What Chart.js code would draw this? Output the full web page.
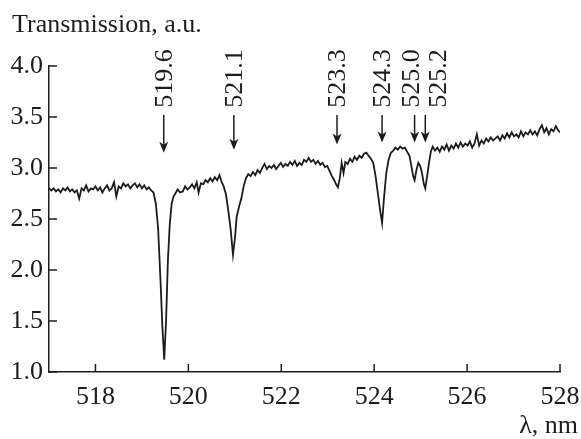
<!DOCTYPE html>
<html>
<head>
<meta charset="utf-8">
<script src="https://cdn.jsdelivr.net/npm/chart.js@4"></script>
<style>
  html, body { margin: 0; padding: 0; background: #fff; }
  #wrap { width: 581px; height: 439px; }
</style>
</head>
<body>
<div id="wrap"><canvas id="spectrum" width="581" height="439"></canvas></div>
<script>
// wavelength, nm
const wavelength = [
  517.00, 517.05, 517.10, 517.15, 517.20, 517.25, 517.30, 517.35, 517.40, 517.45,
  517.50, 517.55, 517.60, 517.65, 517.70, 517.75, 517.80, 517.85, 517.90, 517.95,
  518.00, 518.05, 518.10, 518.15, 518.20, 518.25, 518.30, 518.35, 518.40, 518.45,
  518.50, 518.55, 518.60, 518.65, 518.70, 518.75, 518.80, 518.85, 518.90, 518.95,
  519.00, 519.05, 519.10, 519.15, 519.20, 519.25, 519.30, 519.35, 519.40, 519.44,
  519.48, 519.52, 519.56, 519.60, 519.64, 519.68, 519.72, 519.77, 519.82, 519.88,
  519.93, 519.98, 520.03, 520.08, 520.13, 520.18, 520.22, 520.27, 520.32, 520.37,
  520.42, 520.47, 520.52, 520.57, 520.62, 520.67, 520.71, 520.76, 520.81, 520.86,
  520.91, 520.96, 521.00, 521.04, 521.09, 521.14, 521.19, 521.24, 521.29, 521.34,
  521.39, 521.44, 521.49, 521.54, 521.59, 521.64, 521.69, 521.74, 521.79, 521.84,
  521.89, 521.94, 521.99, 522.04, 522.09, 522.14, 522.19, 522.24, 522.29, 522.34,
  522.39, 522.44, 522.49, 522.54, 522.59, 522.64, 522.69, 522.74, 522.79, 522.84,
  522.89, 522.94, 522.99, 523.04, 523.09, 523.14, 523.18, 523.22, 523.26, 523.30,
  523.34, 523.38, 523.43, 523.48, 523.53, 523.58, 523.63, 523.68, 523.73, 523.78,
  523.83, 523.88, 523.93, 523.98, 524.03, 524.08, 524.13, 524.17, 524.21, 524.26,
  524.31, 524.36, 524.41, 524.46, 524.51, 524.56, 524.61, 524.66, 524.71, 524.76,
  524.80, 524.84, 524.87, 524.91, 524.95, 524.99, 525.03, 525.07, 525.10, 525.14,
  525.18, 525.22, 525.26, 525.31, 525.36, 525.41, 525.46, 525.51, 525.56, 525.61,
  525.66, 525.71, 525.76, 525.81, 525.86, 525.91, 525.96, 526.01, 526.06, 526.11,
  526.16, 526.21, 526.26, 526.31, 526.36, 526.41, 526.46, 526.51, 526.56, 526.61,
  526.66, 526.71, 526.76, 526.81, 526.86, 526.91, 526.96, 527.01, 527.06, 527.11,
  527.16, 527.21, 527.26, 527.31, 527.36, 527.41, 527.46, 527.51, 527.56, 527.61,
  527.66, 527.71, 527.76, 527.81, 527.86, 527.91, 527.96, 528.00
];

// transmission, a.u.
const transmission = [
  2.80, 2.78, 2.80, 2.77, 2.79, 2.76, 2.80, 2.78, 2.81, 2.77,
  2.79, 2.76, 2.78, 2.70, 2.80, 2.78, 2.83, 2.77, 2.80, 2.79,
  2.82, 2.78, 2.81, 2.76, 2.80, 2.83, 2.78, 2.80, 2.86, 2.72,
  2.82, 2.80, 2.85, 2.82, 2.84, 2.80, 2.83, 2.85, 2.81, 2.84,
  2.80, 2.83, 2.79, 2.81, 2.78, 2.76, 2.65, 2.40, 1.90, 1.45,
  1.12, 1.50, 2.10, 2.45, 2.65, 2.72, 2.75, 2.79, 2.76, 2.77,
  2.82, 2.79, 2.81, 2.84, 2.80, 2.86, 2.76, 2.85, 2.84, 2.88,
  2.86, 2.90, 2.87, 2.91, 2.88, 2.93, 2.87, 2.82, 2.74, 2.58,
  2.40, 2.15, 2.30, 2.52, 2.62, 2.70, 2.82, 2.90, 2.94, 2.92,
  2.96, 2.93, 2.98, 2.95, 3.00, 3.04, 2.99, 3.02, 3.00, 3.03,
  2.99, 3.02, 3.05, 3.01, 3.04, 3.02, 3.06, 3.03, 3.07, 3.02,
  3.05, 3.03, 3.08, 3.06, 3.10, 3.06, 3.08, 3.04, 3.07, 3.03,
  3.05, 3.01, 3.02, 2.97, 2.92, 2.88, 2.84, 2.81, 2.90, 3.05,
  2.95, 3.06, 3.04, 3.09, 3.06, 3.11, 3.08, 3.12, 3.10, 3.14,
  3.15, 3.12, 3.09, 3.05, 2.92, 2.75, 2.58, 2.46, 2.70, 2.95,
  3.08, 3.15, 3.17, 3.20, 3.18, 3.21, 3.19, 3.20, 3.16, 3.12,
  3.02, 2.92, 2.88, 2.98, 3.05, 3.02, 2.95, 2.84, 2.80, 2.92,
  3.05, 3.16, 3.21, 3.17, 3.20, 3.16, 3.21, 3.18, 3.23, 3.17,
  3.22, 3.19, 3.24, 3.20, 3.25, 3.21, 3.24, 3.22, 3.26, 3.20,
  3.24, 3.33, 3.22, 3.27, 3.24, 3.29, 3.26, 3.30, 3.27, 3.29,
  3.31, 3.27, 3.32, 3.29, 3.34, 3.30, 3.35, 3.31, 3.33, 3.30,
  3.36, 3.31, 3.35, 3.33, 3.37, 3.33, 3.36, 3.32, 3.38, 3.42,
  3.35, 3.39, 3.33, 3.38, 3.36, 3.41, 3.37, 3.35
];

const xTicks = [518, 520, 522, 524, 526, 528];
const yTicks = [1.0, 1.5, 2.0, 2.5, 3.0, 3.5, 4.0];

// marked lines: label text, where the arrow points, where the label sits
const lineLabels = ['519.6', '521.1', '523.3', '524.3', '525.0', '525.2'];
const arrowAt = [519.47, 520.98, 523.20, 524.17, 524.87, 525.10];
const labelAt = [519.47, 520.98, 523.20, 524.17, 524.80, 525.37];
const arrowTip = [3.15, 3.18, 3.23, 3.25, 3.25, 3.25];
const arrowTail = 3.52;
const labelBase = 3.59;

const FAMILY = '"Liberation Serif", "Times New Roman", serif';
const FONT = '26px ' + FAMILY;
const INK = '#1c1c1c';

const decorations = {
    id: 'decorations',
    afterDraw(chart) {
        const ctx = chart.ctx;
        const xs = chart.scales.x;
        const ys = chart.scales.y;
        ctx.save();
        ctx.strokeStyle = INK;
        ctx.fillStyle = INK;
        ctx.lineWidth = 1.5;

        // inward tick marks
        xTicks.forEach(v => {
            const px = xs.getPixelForValue(v);
            ctx.beginPath();
            ctx.moveTo(px, ys.bottom);
            ctx.lineTo(px, ys.bottom - 8);
            ctx.stroke();
        });
        yTicks.forEach(v => {
            const py = ys.getPixelForValue(v);
            ctx.beginPath();
            ctx.moveTo(xs.left, py);
            ctx.lineTo(xs.left + 8, py);
            ctx.stroke();
        });

        // arrows with rotated labels
        ctx.font = FONT;
        const tail = ys.getPixelForValue(arrowTail);
        const base = ys.getPixelForValue(labelBase);
        lineLabels.forEach((txt, i) => {
            const ax = xs.getPixelForValue(arrowAt[i]);
            const tip = ys.getPixelForValue(arrowTip[i]);
            ctx.lineWidth = 1.5;
            ctx.beginPath();
            ctx.moveTo(ax, tail);
            ctx.lineTo(ax, tip - 6);
            ctx.stroke();
            ctx.beginPath();
            ctx.moveTo(ax, tip);
            ctx.lineTo(ax - 4.5, tip - 11);
            ctx.lineTo(ax, tip - 8);
            ctx.lineTo(ax + 4.5, tip - 11);
            ctx.closePath();
            ctx.fill();

            const lx = xs.getPixelForValue(labelAt[i]);
            ctx.save();
            ctx.translate(lx, base);
            ctx.rotate(-Math.PI / 2);
            ctx.textAlign = 'left';
            ctx.textBaseline = 'middle';
            ctx.fillText(txt, 0, 1);
            ctx.restore();
        });

        // axis titles
        ctx.textBaseline = 'alphabetic';
        ctx.textAlign = 'left';
        ctx.fillText('Transmission, a.u.', 12, 32);
        ctx.textAlign = 'right';
        ctx.fillText('\u03bb, nm', 578, 433);
        ctx.restore();
    }
};

const canvas = document.getElementById('spectrum');
new Chart(canvas.getContext('2d'), {
    type: 'line',
    data: {
        datasets: [{
            label: 'Transmission',
            data: wavelength.map((x, i) => ({ x: x, y: transmission[i] })),
            borderColor: INK,
            borderWidth: 1.8,
            pointRadius: 0,
            tension: 0,
            fill: false
        }]
    },
    options: {
        responsive: false,
        animation: false,
        events: [],
        layout: { padding: { top: 66, right: 21, left: 0, bottom: 0 } },
        plugins: {
            legend: { display: false },
            tooltip: { enabled: false }
        },
        scales: {
            x: {
                type: 'linear',
                min: 517,
                max: 528,
                afterBuildTicks: s => { s.ticks = xTicks.map(v => ({ value: v })); },
                afterFit: s => { s.height = 67; s.paddingLeft = 0; s.paddingRight = 0; },
                grid: { display: false, drawTicks: false },
                border: { display: true, color: INK, width: 1.5 },
                ticks: {
                    color: INK,
                    padding: 10,
                    maxRotation: 0,
                    font: { family: FAMILY, size: 26 }
                }
            },
            y: {
                type: 'linear',
                min: 1,
                max: 4,
                afterBuildTicks: s => { s.ticks = yTicks.map(v => ({ value: v })); },
                afterFit: s => { s.width = 49; s.paddingTop = 0; s.paddingBottom = 0; },
                grid: { display: false, drawTicks: false },
                border: { display: true, color: INK, width: 1.5 },
                ticks: {
                    color: INK,
                    padding: 6,
                    callback: v => Number(v).toFixed(1),
                    font: { family: FAMILY, size: 26 }
                }
            }
        }
    },
    plugins: [decorations]
});
</script>
</body>
</html>
